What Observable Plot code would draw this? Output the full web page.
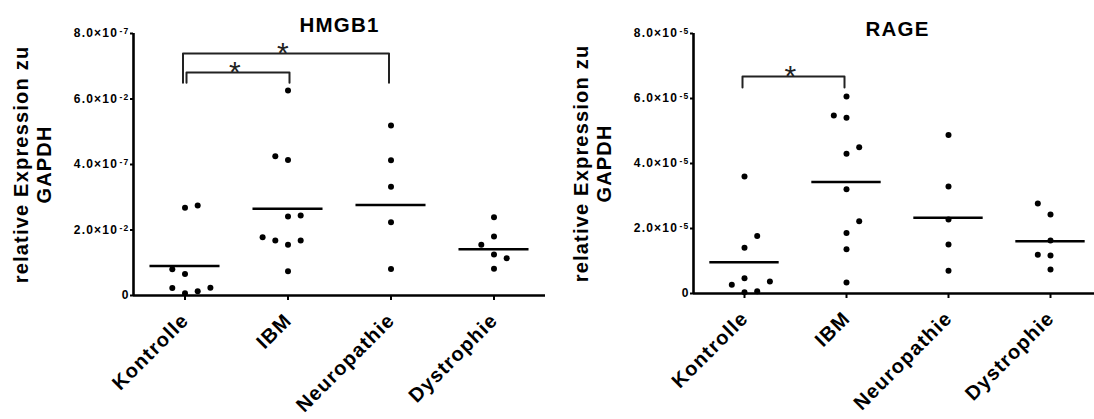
<!DOCTYPE html>
<html>
<head>
<meta charset="utf-8">
<script src="https://cdn.jsdelivr.net/npm/d3@7"></script>
<script src="https://cdn.jsdelivr.net/npm/@observablehq/plot@0.6"></script>
<style>
  body { margin: 0; background: #fff; }
  #wrap { display: flex; width: 1094px; height: 419px; overflow: hidden; }
  #wrap svg text { letter-spacing: 1.2px; }
</style>
</head>
<body>
<div id="wrap"></div>
<script>
// ---------- data ----------
const categories = ["Kontrolle", "IBM", "Neuropathie", "Dystrophie"];
const yLabel = "relative Expression zu\nGAPDH";

// HMGB1 panel (values in tick units)
const hmgb1Title = "HMGB1";
const hmgb1Kontrolle   = [2.68, 2.75, 0.80, 0.66, 0.23, 0.07, 0.13, 0.24];
const hmgb1IBM         = [6.26, 4.25, 4.14, 2.41, 2.44, 1.78, 1.68, 1.55, 1.68, 0.74];
const hmgb1Neuropathie = [5.19, 4.13, 3.32, 2.24, 0.81];
const hmgb1Dystrophie  = [2.39, 1.80, 1.55, 1.25, 1.14, 0.82];
// jitter column of each dot
const hmgb1Columns = [
  [0, 1, -1, 0, -1, 0, 1, 2],
  [0, -1, 0, 0, 1, -2, -1, 0, 1, 0],
  [0, 0, 0, 0, 0],
  [0, 0, -1, 0, 1, 0]
];
const hmgb1Means = [0.90, 2.65, 2.76, 1.41];
const hmgb1Ticks = [0, 2, 4, 6, 8];
const hmgb1TickLabels = ["0", "2.0×10^-2", "4.0×10^-7", "6.0×10^-2", "8.0×10^-7"];
const hmgb1Brackets = [
  {from: 0, to: 2, level: 7.39, foot: 6.50, label: "*"},
  {from: 0, to: 1, level: 6.81, foot: 6.50, label: "*"}
];

// RAGE panel
const rageTitle = "RAGE";
const rageKontrolle   = [3.60, 1.77, 1.41, 0.47, 0.27, 0.37, 0.04, 0.07];
const rageIBM         = [6.06, 5.48, 5.41, 4.50, 4.30, 3.21, 2.22, 1.86, 1.36, 0.34];
const rageNeuropathie = [4.88, 3.29, 2.28, 1.51, 0.70];
const rageDystrophie  = [2.77, 2.43, 1.63, 1.19, 1.17, 0.74];
const rageColumns = [
  [0, 1, 0, 0, -1, 2, 0, 1],
  [0, -1, 0, 1, 0, 0, 1, 0, 0, 0],
  [0, 0, 0, 0, 0],
  [-1, 0, 0, -1, 0, 0]
];
const rageMeans = [0.96, 3.43, 2.33, 1.61];
const rageTicks = [0, 2, 4, 6, 8];
const rageTickLabels = ["0", "2.0×10^-5", "4.0×10^-5", "6.0×10^-5", "8.0×10^-5"];
const rageBrackets = [
  {from: 0, to: 1, level: 6.68, foot: 6.34, label: "*"}
];

// ---------- drawing ----------
const FONT = "'Liberation Sans', Arial, Helvetica, sans-serif";

function panel(cfg) {
  const {title, groups, columns, means, ticks, tickLabels, brackets,
         marginLeft, xEnd, marginBottom, titleDx, titleDy, width} = cfg;
  const step = (xEnd - marginLeft) / 4;       // px per category
  const col = 12.7 / step;                     // one jitter column in x units
  const rows = groups.flatMap((arr, g) => arr.map((v, j) => ({g, v, c: columns[g][j]})));

  const marks = [
    Plot.ruleY([0], {strokeWidth: 2.6}),
    Plot.ruleX([-0.5], {strokeWidth: 2.6}),
    Plot.axisY({ticks, tickFormat: d => tickLabels[ticks.indexOf(d)], tickSize: 3, tickPadding: 1,
                fontSize: 12, strokeWidth: 2, label: null}),
    Plot.axisX({ticks: [0, 1, 2, 3], tickFormat: () => "", tickSize: 5, strokeWidth: 2, label: null}),
    Plot.dot(rows, {x: d => d.g + d.c * col, y: "v", r: 3, fill: "black", stroke: "none"}),
    Plot.ruleY(means, {y: d => d, x1: (d, i) => i - 0.34, x2: (d, i) => i + 0.34, strokeWidth: 2.5}),
    Plot.text(categories, {x: (d, i) => i, frameAnchor: "bottom", text: d => d, rotate: -45,
              textAnchor: "end", lineAnchor: "bottom", dx: 5, dy: 26, fontSize: 20, fontWeight: "bold"}),
    Plot.text([title], {frameAnchor: "top", text: d => d, lineAnchor: "bottom", dx: titleDx, dy: titleDy,
              fontSize: 20.5, fontWeight: "bold"}),
    Plot.text([yLabel], {frameAnchor: "left", text: d => d, rotate: -90, lineAnchor: "bottom",
              textAnchor: "middle", lineHeight: 1.115, dx: -83, dy: 0, fontSize: 20, fontWeight: "bold"})
  ];
  brackets.forEach((b, j) => {
    const bdx = j === 0 ? -2 : 1.5;
    marks.push(Plot.line([[b.from, b.foot], [b.from, b.level], [b.to, b.level], [b.to, b.foot]],
      {x: d => d[0], y: d => d[1], stroke: "#222", strokeWidth: 2, dx: bdx}));
    marks.push(Plot.text([b], {x: d => (d.from + d.to) / 2, y: "level", text: "label", lineAnchor: "bottom",
      dx: bdx - 2.5, dy: 10, fontSize: 30, fontWeight: "normal", fill: "#222"}));
  });

  const svg = Plot.plot({
    width, height: 419,
    marginLeft, marginRight: width - Math.min(xEnd, width), marginTop: 33, marginBottom,
    x: {domain: [-0.5, 3.5], range: [marginLeft, xEnd]},
    y: {domain: [0, 8]},
    style: {fontFamily: FONT, fontWeight: "bold", background: "white", color: "black", overflow: "visible"},
    marks
  });

  // superscript exponents in the y tick labels
  d3.select(svg).selectAll('g[aria-label="y-axis tick label"] text').each(function () {
    const t = this.textContent;
    const k = t.indexOf("^");
    if (k < 0) return;
    const sel = d3.select(this);
    sel.text(t.slice(0, k));
    sel.append("tspan").attr("dx", "1.5").attr("dy", "-3").attr("font-size", "8.5px").text(t.slice(k + 1));
  });
  return svg;
}

const wrap = document.getElementById("wrap");
wrap.append(panel({
  title: hmgb1Title,
  groups: [hmgb1Kontrolle, hmgb1IBM, hmgb1Neuropathie, hmgb1Dystrophie],
  columns: hmgb1Columns, means: hmgb1Means, ticks: hmgb1Ticks, tickLabels: hmgb1TickLabels,
  brackets: hmgb1Brackets, marginLeft: 133, xEnd: 545, marginBottom: 124, titleDx: 0, titleDy: -2, width: 547
}));
wrap.append(panel({
  title: rageTitle,
  groups: [rageKontrolle, rageIBM, rageNeuropathie, rageDystrophie],
  columns: rageColumns, means: rageMeans, ticks: rageTicks, tickLabels: rageTickLabels,
  brackets: rageBrackets, marginLeft: 146, xEnd: 554, marginBottom: 126, titleDx: 3.5, titleDy: 2, width: 547
}));
</script>
</body>
</html>
